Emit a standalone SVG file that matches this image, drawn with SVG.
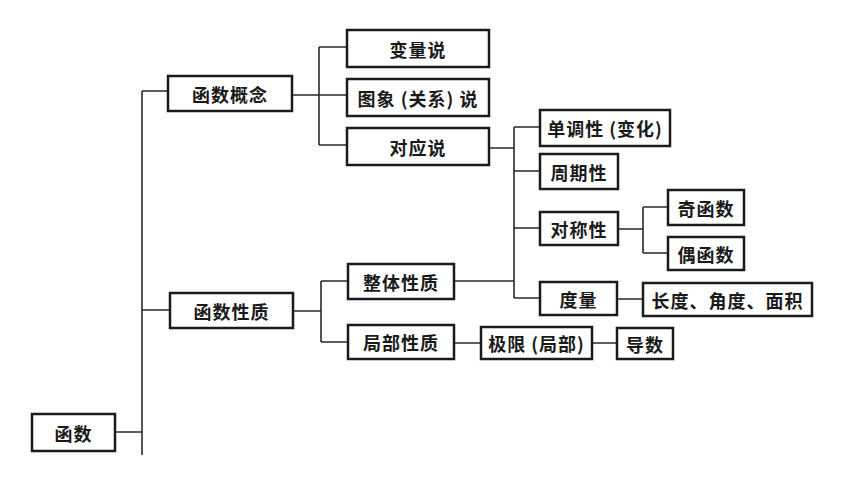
<svg xmlns="http://www.w3.org/2000/svg" width="860" height="484" viewBox="0 0 860 484">
<style>
.box{fill:#fff;stroke:#1a1a1a;stroke-width:2.5}
.lbl{font-family:"Noto Sans CJK SC","Noto Sans",sans-serif;font-weight:bold;font-size:18px;fill:#1a1a1a;text-anchor:middle;dominant-baseline:central;letter-spacing:1px}
.conn{fill:none;stroke:#2a2a2a;stroke-width:1.6}
</style>
<rect width="860" height="484" fill="#fff"/>
<g id="connectors" class="conn">
<path d="M142,91 V455 M142,91 H168 M142,310 H170 M115,432 H142"/>
<path d="M292,95 H347 M319,47 V145 M319,47 H347 M319,145 H347"/>
<path d="M489,148 H514 M514,127 V298 M514,127 H540 M514,171 H540 M514,228 H540 M514,298 H540 M455,281 H514"/>
<path d="M618,229 H643 M643,207 V253 M643,207 H668 M643,253 H668 M617,299 H643"/>
<path d="M293,311 H321 M321,281 V342 M321,281 H348 M321,342 H348"/>
<path d="M454,343 H481 M592,343 H617"/>
</g>
<g id="n-hanshu"><rect class="box" x="32" y="414" width="83" height="37"/><text class="lbl" x="73.5" y="432.5">函数</text></g>
<g id="n-gainian"><rect class="box" x="168" y="76" width="124" height="35"/><text class="lbl" x="230" y="93.5">函数概念</text></g>
<g id="n-xingzhi"><rect class="box" x="170" y="293" width="123" height="35"/><text class="lbl" x="231.5" y="310.5">函数性质</text></g>
<g id="n-bianliang"><rect class="box" x="347" y="30" width="142" height="37"/><text class="lbl" x="418" y="48.5">变量说</text></g>
<g id="n-tuxiang"><rect class="box" x="347" y="79" width="142" height="37"/><text class="lbl" x="418" y="97.5">图象 (关系) 说</text></g>
<g id="n-duiying"><rect class="box" x="347" y="128" width="142" height="37"/><text class="lbl" x="418" y="146.5">对应说</text></g>
<g id="n-zhengti"><rect class="box" x="348" y="264" width="106" height="35"/><text class="lbl" x="401" y="281.5">整体性质</text></g>
<g id="n-jubu"><rect class="box" x="348" y="325" width="106" height="34"/><text class="lbl" x="401" y="342">局部性质</text></g>
<g id="n-jixian"><rect class="box" x="481" y="327" width="111" height="32"/><text class="lbl" x="536.5" y="343">极限 (局部)</text></g>
<g id="n-daoshu"><rect class="box" x="617" y="328" width="56" height="31"/><text class="lbl" x="645" y="343.5">导数</text></g>
<g id="n-dandiao"><rect class="box" x="540" y="110" width="130" height="36"/><text class="lbl" x="605" y="128">单调性 (变化)</text></g>
<g id="n-zhouqi"><rect class="box" x="540" y="154" width="78" height="35"/><text class="lbl" x="579" y="171.5">周期性</text></g>
<g id="n-duicheng"><rect class="box" x="540" y="212" width="78" height="33"/><text class="lbl" x="579" y="228.5">对称性</text></g>
<g id="n-duliang"><rect class="box" x="540" y="282" width="77" height="33"/><text class="lbl" x="578.5" y="298.5">度量</text></g>
<g id="n-ji"><rect class="box" x="668" y="190" width="76" height="35"/><text class="lbl" x="706" y="207.5">奇函数</text></g>
<g id="n-ou"><rect class="box" x="668" y="237" width="76" height="33"/><text class="lbl" x="706" y="253.5">偶函数</text></g>
<g id="n-changdu"><rect class="box" x="643" y="283" width="169" height="33"/><text class="lbl" x="727.5" y="299.5">长度、角度、面积</text></g>
</svg>
